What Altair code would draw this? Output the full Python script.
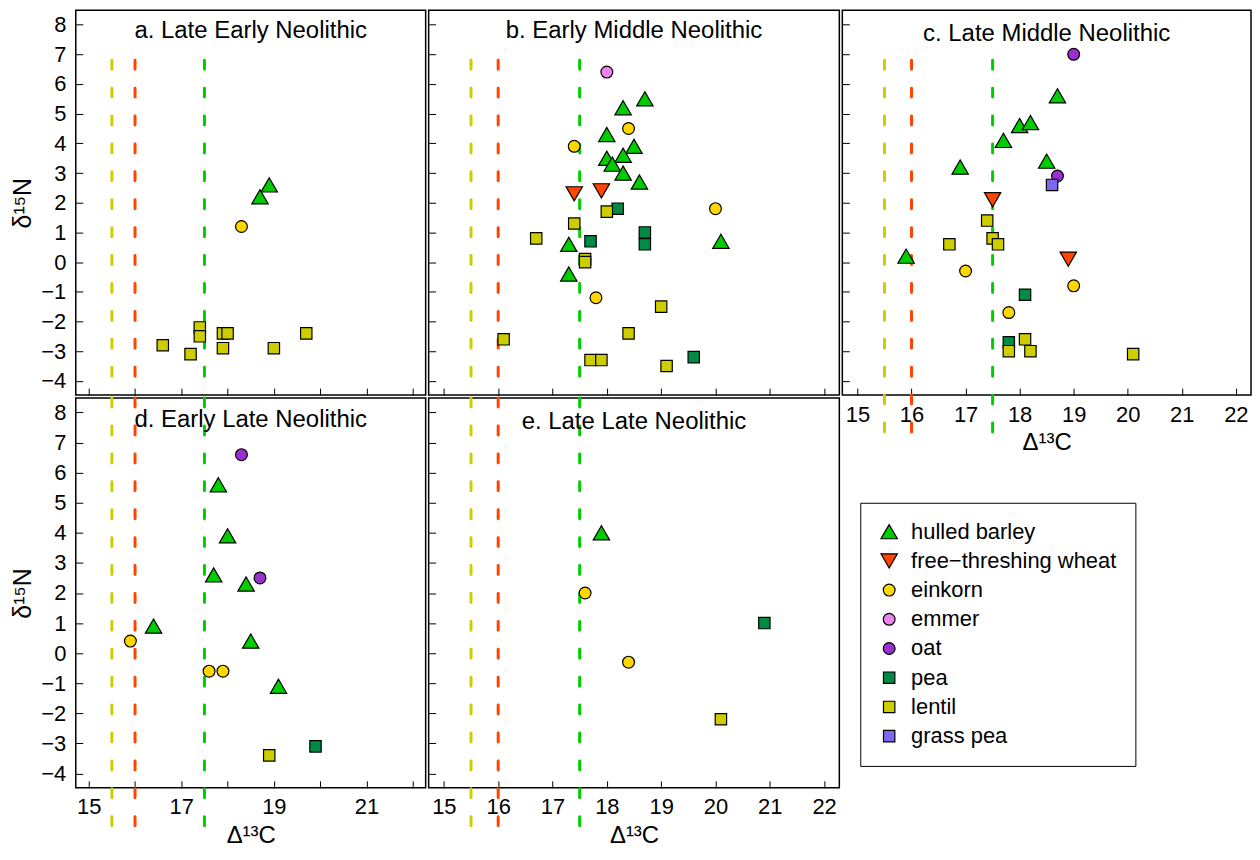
import altair as alt
import pandas as pd

# ---------------- data ----------------
SPECIES = ["hulled barley", "free−threshing wheat", "einkorn", "emmer", "oat",
           "pea", "lentil", "grass pea"]
CODES = ["HB", "FW", "EI", "EM", "OA", "PE", "LE", "GP"]
COLORS = ["#00CD00", "#FF4500", "#FFD700", "#EE82EE", "#9932CC", "#008B45", "#CDCD00", "#7B68EE"]
SHAPES = ["triangle-up", "triangle-down", "circle", "circle", "circle", "square", "square", "square"]
SIZES = [270, 270, 140, 140, 140, 130, 130, 130]

PANEL_TITLES = ["a. Late Early Neolithic", "b. Early Middle Neolithic", "c. Late Middle Neolithic",
                "d. Early Late Neolithic", "e. Late Late Neolithic"]

# panel a
a_sp = ["HB", "HB", "EI", "LE", "LE", "LE", "LE", "LE", "LE", "LE", "LE", "LE"]
a_c = [18.9, 18.7, 18.3, 16.6, 17.2, 17.4, 17.4, 17.9, 18.0, 17.9, 19.0, 19.7]
a_n = [2.6, 2.2, 1.2, -2.8, -3.1, -2.2, -2.5, -2.4, -2.4, -2.9, -2.9, -2.4]

# panel b
b_sp = ["HB"] * 12 + ["FW"] * 2 + ["EI"] * 4 + ["EM"] + ["PE"] * 5 + ["LE"] * 11
b_c = [18.7, 18.3, 18.0, 18.5, 18.3, 18.0, 18.1, 18.3, 18.6, 17.3, 20.1, 17.3,
       17.4, 17.9,
       18.4, 17.4, 20.0, 17.8,
       18.0,
       18.2, 17.7, 18.7, 18.7, 19.6,
       18.0, 17.4, 16.7, 17.6, 17.6, 19.0, 16.1, 18.4, 17.7, 17.9, 19.1]
b_n = [5.5, 5.2, 4.3, 3.9, 3.6, 3.5, 3.3, 3.0, 2.7, 0.6, 0.7, -0.4,
       2.3, 2.4,
       4.5, 3.9, 1.8, -1.2,
       6.4,
       1.8, 0.7, 1.0, 0.6, -3.2,
       1.7, 1.3, 0.8, 0.1, 0.0, -1.5, -2.6, -2.4, -3.3, -3.3, -3.5]

# panel c
c_sp = ["HB"] * 7 + ["FW"] * 2 + ["EI"] * 3 + ["OA"] * 2 + ["GP"] + ["PE"] * 2 + ["LE"] * 8
c_c = [18.7, 18.0, 18.2, 17.7, 16.9, 18.5, 15.9,
       17.5, 18.9,
       17.0, 19.0, 17.8,
       19.0, 18.7,
       18.6,
       18.1, 17.8,
       17.4, 16.7, 17.5, 17.6, 17.8, 18.1, 18.2, 20.1]
c_n = [5.6, 4.6, 4.7, 4.1, 3.2, 3.4, 0.2,
       2.1, 0.1,
       -0.3, -0.8, -1.7,
       7.0, 2.9,
       2.6,
       -1.1, -2.7,
       1.4, 0.6, 0.8, 0.6, -3.0, -2.6, -3.0, -3.1]

# panel d
d_sp = ["HB"] * 7 + ["EI"] * 3 + ["OA"] * 2 + ["PE"] + ["LE"]
d_c = [17.8, 18.0, 17.7, 18.4, 16.4, 18.5, 19.1, 15.9, 17.6, 17.9, 18.3, 18.7, 19.9, 18.9]
d_n = [5.6, 3.9, 2.6, 2.3, 0.9, 0.4, -1.1, 0.4, -0.6, -0.6, 6.6, 2.5, -3.1, -3.4]

# panel e
e_sp = ["HB", "EI", "EI", "PE", "LE"]
e_c = [17.9, 17.6, 18.4, 20.9, 20.1]
e_n = [4.0, 2.0, -0.3, 1.0, -2.2]

# reference lines (Δ13C thresholds)
RULE_X = [15.5, 16.0, 17.5]
RULE_COLORS = ["#CDCD00", "#FF4500", "#00CD00"]
RULE_TOP = [6.8, 6.8, 6.8, 8.48, 8.48]
RULE_BOTTOM = [-4.48, -4.48, -6.05, -6.05, -6.05]

X_DOMAIN = [14.72, 22.28]
Y_DOMAIN = [-4.48, 8.48]
X_TICKS = [15, 16, 17, 18, 19, 20, 21, 22]
Y_TICKS = [-4, -3, -2, -1, 0, 1, 2, 3, 4, 5, 6, 7, 8]

FONT = "Liberation Sans"
name_of = dict(zip(CODES, SPECIES))

legend = alt.Legend(
    orient="none", legendX=787, legendY=494, title=None,
    labelFontSize=22, labelFont=FONT, labelColor="black", labelLimit=400,
    symbolStrokeWidth=1.2, symbolOpacity=1,
    strokeColor="black", fillColor="white", padding=18,
    labelOffset=11, rowPadding=7.3,
)


def panel(i, sp, cx, ny, width, height, x_labels, y_labels, title_y, odd_only=False):
    df = pd.DataFrame({"species": [name_of[s] for s in sp], "d13C": cx, "d15N": ny})
    rdf = pd.DataFrame({"d13C": RULE_X, "col": RULE_COLORS,
                        "d15N": [RULE_TOP[i]] * 3, "d15N_end": [RULE_BOTTOM[i]] * 3})
    tdf = pd.DataFrame({"label": [PANEL_TITLES[i]]})
    xs = alt.Scale(domain=X_DOMAIN, nice=False, zero=False)
    ys = alt.Scale(domain=Y_DOMAIN, nice=False, zero=False)
    xa = dict(values=X_TICKS, offset=-7, tickSize=7, domain=False, grid=False,
              labels=x_labels, labelFontSize=22, labelPadding=9, tickColor="black",
              labelColor="black", labelFont=FONT, titleFont=FONT, titleFontSize=24,
              titleFontWeight="normal", titleColor="black", titlePadding=6)
    if odd_only:
        xa["labelExpr"] = "datum.value % 2 == 1 ? datum.label : ''"
    ya = dict(values=Y_TICKS, offset=-7, tickSize=7, domain=False, grid=False,
              labels=y_labels, labelFontSize=22, labelPadding=10, tickColor="black",
              labelColor="black", labelFont=FONT, titleFont=FONT, titleFontSize=25,
              titleFontWeight="normal", titleColor="black", titlePadding=5)
    xtitle = "Δ¹³C" if x_labels else None
    ytitle = "δ¹⁵N" if y_labels else None
    xaxis = alt.Axis(**xa)
    yaxis = alt.Axis(**ya)

    rules = alt.Chart(rdf).mark_rule(strokeWidth=3, strokeDash=[9, 19], strokeCap="round").encode(
        x=alt.X("d13C:Q", scale=xs, axis=xaxis, title=xtitle),
        y=alt.Y("d15N:Q", scale=ys, axis=yaxis, title=ytitle),
        y2="d15N_end:Q",
        stroke=alt.Stroke("col:N", scale=None, legend=None),
    )
    pts = alt.Chart(df).mark_point(filled=True, opacity=1).encode(
        x=alt.X("d13C:Q", scale=xs, axis=xaxis, title=xtitle),
        y=alt.Y("d15N:Q", scale=ys, axis=yaxis, title=ytitle),
        fill=alt.Fill("species:N", scale=alt.Scale(domain=SPECIES, range=COLORS), legend=legend),
        shape=alt.Shape("species:N", scale=alt.Scale(domain=SPECIES, range=SHAPES), legend=legend),
        size=alt.Size("species:N", scale=alt.Scale(domain=SPECIES, range=SIZES, type="ordinal"),
                      legend=legend),
        stroke=alt.value("black"),
        strokeWidth=alt.value(1.2),
    )
    ttl = alt.Chart(tdf).mark_text(font=FONT, fontSize=24, color="black", align="center",
                                   baseline="alphabetic").encode(
        text="label:N", x=alt.value(width / 2), y=alt.value(title_y))
    return alt.layer(rules, pts, ttl).properties(width=width, height=height)


pa = panel(0, a_sp, a_c, a_n, 351, 386, False, True, 28)
pb = panel(1, b_sp, b_c, b_n, 412, 386, False, False, 28)
pc = panel(2, c_sp, c_c, c_n, 410, 386, True, False, 31)
pd_ = panel(3, d_sp, d_c, d_n, 351, 391, True, True, 29, odd_only=True)
pe = panel(4, e_sp, e_c, e_n, 412, 391, True, False, 31)

chart = alt.concat(pa, pb, pc, pd_, pe, columns=3, spacing=3, bounds="flush").properties(
    padding={"left": 2, "top": 0, "right": 0, "bottom": 0}
).configure(font=FONT).configure_view(stroke="black", strokeWidth=1.5)

chart.save("out.html", embed_options={"renderer": "svg", "actions": False})
